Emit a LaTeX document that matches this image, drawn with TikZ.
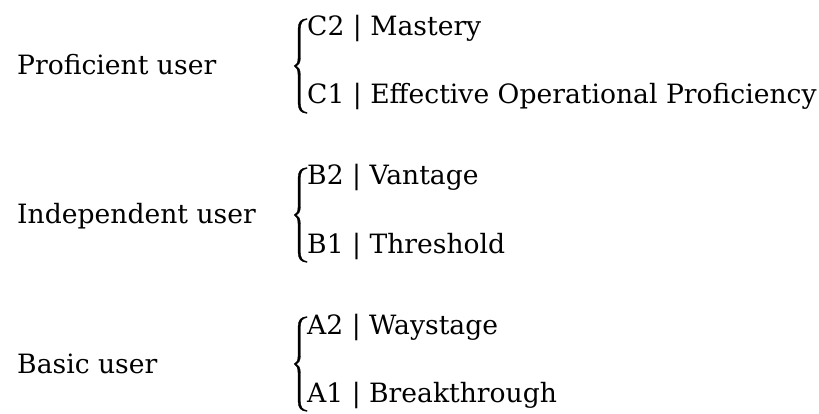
\documentclass[tikz,border=0pt]{standalone}
\usepackage{fontspec}
\setmainfont{DejaVu Serif}
\begin{document}
\begin{tikzpicture}[x=1pt,y=-1pt,
  txt/.style={anchor=base west,inner sep=0pt,font=\fontsize{26.6}{30}\selectfont},
  bracefill/.style={fill=black,draw=black,line width=0.3pt,line join=round}]
\useasboundingbox (0,0) rectangle (819,414);
\foreach \g/\lab/\hi/\lo [count=\i from 0] in {
  P/Proficient user/C2 | Mastery/C1 | Effective Operational Proficiency,
  I/Independent user/B2 | Vantage/B1 | Threshold,
  B/Basic user/A2 | Waystage/A1 | Breakthrough}{
  \pgfmathsetmacro{\off}{149*\i}
  \node[txt] (lab\g) at (17,75+\off) {\lab};
  \node[txt] (hi\g) at (307,36+\off) {\hi};
  \node[txt] (lo\g) at (307,104+\off) {\lo};
  \begin{scope}[yshift=-\off pt]
  \filldraw[bracefill] (307,18.6)
     .. controls (301,18.8) and (298,22) .. (298,29)
     -- (298,58)
     .. controls (298,63) and (296.5,65) .. (294,66)
     .. controls (296.5,67) and (298,69.5) .. (298,75)
     -- (298,103)
     .. controls (298,110) and (301,113.2) .. (307,113.4)
     -- (307,112.4)
     .. controls (302.5,112) and (300.4,109) .. (300.4,103)
     -- (300.4,75)
     .. controls (300.4,69.5) and (298.5,67) .. (296.5,66)
     .. controls (298.5,65) and (300.4,63) .. (300.4,58)
     -- (300.4,29)
     .. controls (300.4,23) and (302.5,20) .. (307,19.6)
     -- cycle;
  \end{scope}
}
\end{tikzpicture}
\end{document}
